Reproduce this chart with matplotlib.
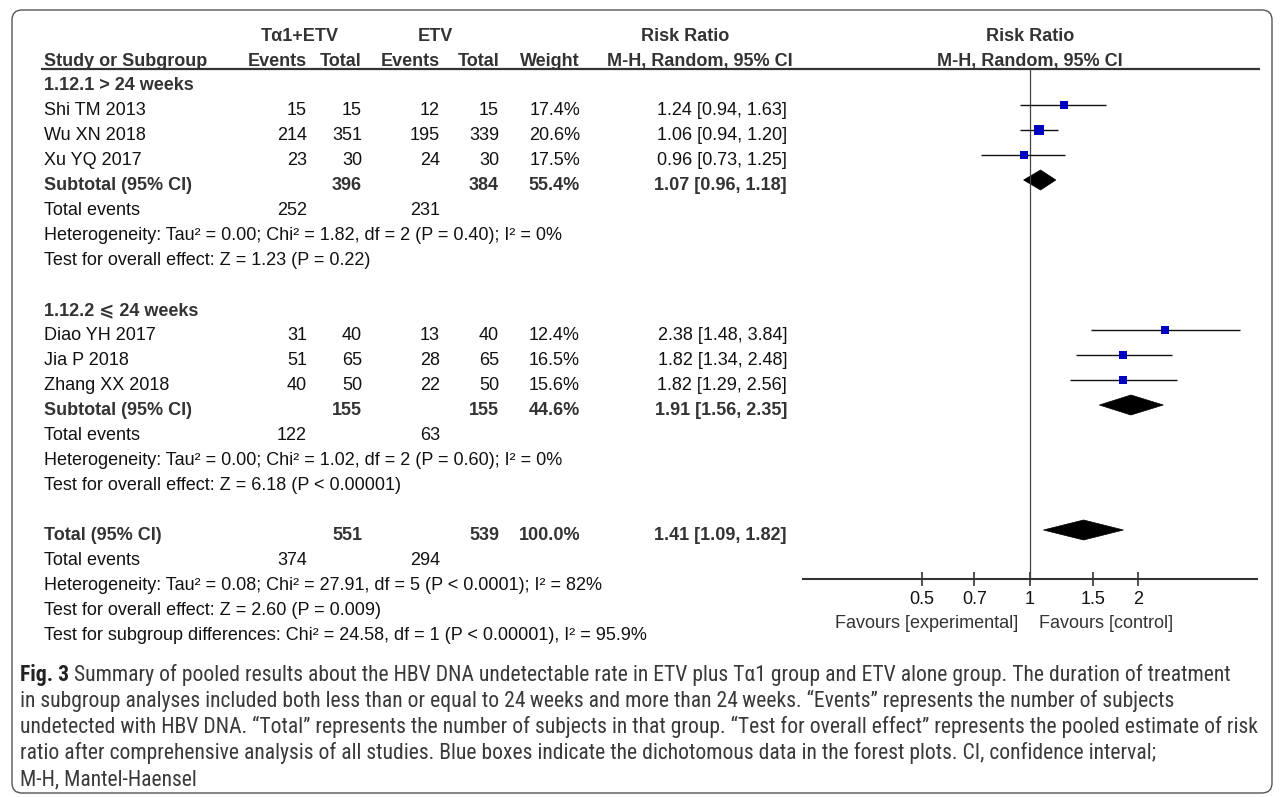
import matplotlib
matplotlib.use('Agg')
import matplotlib.pyplot as plt
from matplotlib.patches import FancyBboxPatch, Polygon
from matplotlib import font_manager
import numpy as np

plt.rcParams['font.family'] = ['Liberation Sans', 'DejaVu Sans']

# ---- data ----
group_titles = ['1.12.1 > 24 weeks', '1.12.2 \u2a7d 24 weeks']

g1_names = ['Shi TM 2013', 'Wu XN 2018', 'Xu YQ 2017']
g1_exp_ev = [15, 214, 23]
g1_exp_n = [15, 351, 30]
g1_ctl_ev = [12, 195, 24]
g1_ctl_n = [15, 339, 30]
g1_weight = [17.4, 20.6, 17.5]
g1_rr = [1.24, 1.06, 0.96]
g1_lo = [0.94, 0.94, 0.73]
g1_hi = [1.63, 1.20, 1.25]

g2_names = ['Diao YH 2017', 'Jia P 2018', 'Zhang XX 2018']
g2_exp_ev = [31, 51, 40]
g2_exp_n = [40, 65, 50]
g2_ctl_ev = [13, 28, 22]
g2_ctl_n = [40, 65, 50]
g2_weight = [12.4, 16.5, 15.6]
g2_rr = [2.38, 1.82, 1.82]
g2_lo = [1.48, 1.34, 1.29]
g2_hi = [3.84, 2.48, 2.56]

# pooled rows: [group 1, group 2, overall]
pool_label = ['Subtotal (95% CI)', 'Subtotal (95% CI)', 'Total (95% CI)']
pool_exp_n = [396, 155, 551]
pool_ctl_n = [384, 155, 539]
pool_weight = [55.4, 44.6, 100.0]
pool_rr = [1.07, 1.91, 1.41]
pool_lo = [0.96, 1.56, 1.09]
pool_hi = [1.18, 2.35, 1.82]
pool_exp_events = [252, 122, 374]
pool_ctl_events = [231, 63, 294]
heterogeneity = [
    'Heterogeneity: Tau\u00b2 = 0.00; Chi\u00b2 = 1.82, df = 2 (P = 0.40); I\u00b2 = 0%',
    'Heterogeneity: Tau\u00b2 = 0.00; Chi\u00b2 = 1.02, df = 2 (P = 0.60); I\u00b2 = 0%',
    'Heterogeneity: Tau\u00b2 = 0.08; Chi\u00b2 = 27.91, df = 5 (P < 0.0001); I\u00b2 = 82%',
]
overall_test = [
    'Test for overall effect: Z = 1.23 (P = 0.22)',
    'Test for overall effect: Z = 6.18 (P < 0.00001)',
    'Test for overall effect: Z = 2.60 (P = 0.009)',
]
subgroup_test = 'Test for subgroup differences: Chi\u00b2 = 24.58, df = 1 (P < 0.00001), I\u00b2 = 95.9%'

axis_ticks = [0.5, 0.7, 1, 1.5, 2]
axis_ticklabels = ['0.5', '0.7', '1', '1.5', '2']

caption_bold = 'Fig. 3'
caption_lines = [
    ' Summary of pooled results about the HBV DNA undetectable rate in ETV plus T\u03b11 group and ETV alone group. The duration of treatment',
    'in subgroup analyses included both less than or equal to 24\u2009weeks and more than 24\u2009weeks. \u201cEvents\u201d represents the number of subjects',
    'undetected with HBV DNA. \u201cTotal\u201d represents the number of subjects in that group. \u201cTest for overall effect\u201d represents the pooled estimate of risk',
    'ratio after comprehensive analysis of all studies. Blue boxes indicate the dichotomous data in the forest plots. CI, confidence interval;',
    'M-H, Mantel-Haensel',
]

# ---- layout (pixels) ----
W, H = 1281, 797
FS = 13
TXT = '#111111'
BOLD = '#333333'
x_label = 44
x_ev1, x_n1, x_ev2, x_n2, x_wt, x_rr = 307, 362, 440, 499, 580, 787
ax_left, ax_right, ax_top, ax_bot = 803, 1257, 68.5, 579


def ty(r):
    return 84 + 25 * r + 6  # baseline of row r


fig = plt.figure(figsize=(W / 100, H / 100), dpi=100)
ax = fig.add_axes([0, 0, 1, 1])
ax.set_xlim(0, W)
ax.set_ylim(H, 0)
ax.axis('off')

ax.add_patch(FancyBboxPatch((12, 10), 1260, 783, boxstyle='round,pad=0,rounding_size=10',
                            fc='white', ec='#555555', lw=1.0))


def t(x, y, s, ha='left', bold=False):
    ax.text(x, y, s, ha=ha, va='baseline', fontsize=FS,
            fontweight='bold' if bold else 'normal', color=BOLD if bold else TXT)


# headers
t(300, 41, 'T\u03b11+ETV', ha='center', bold=True)
t(435, 41, 'ETV', ha='center', bold=True)
t(685, 41, 'Risk Ratio', ha='center', bold=True)
t(1030, 41, 'Risk Ratio', ha='center', bold=True)
t(x_label, 66, 'Study or Subgroup', bold=True)
t(x_ev1, 66, 'Events', ha='right', bold=True)
t(x_n1, 66, 'Total', ha='right', bold=True)
t(x_ev2, 66, 'Events', ha='right', bold=True)
t(x_n2, 66, 'Total', ha='right', bold=True)
t(x_wt, 66, 'Weight', ha='right', bold=True)
t(700, 66, 'M-H, Random, 95% CI', ha='center', bold=True)
t(1030, 66, 'M-H, Random, 95% CI', ha='center', bold=True)
ax.plot([41, 1260], [ax_top, ax_top], color='#333333', lw=1.6, solid_capstyle='butt')

# forest axes (log scale)
fa = fig.add_axes([ax_left / W, (H - ax_bot) / H, (ax_right - ax_left) / W, (ax_bot - ax_top) / H])
fa.set_xscale('log')
lim = np.exp((ax_right - 1030) / 156.0)
fa.set_xlim(1 / lim, lim)
fa.set_ylim((ax_bot - 84) / 25, (ax_top - 84) / 25)
fa.patch.set_alpha(0)
for s in ['top', 'left', 'right']:
    fa.spines[s].set_visible(False)
fa.spines['bottom'].set_color('#333333')
fa.spines['bottom'].set_linewidth(1.5)
fa.set_yticks([])
fa.set_xticks(axis_ticks)
fa.set_xticklabels(axis_ticklabels)
fa.minorticks_off()
fa.tick_params(axis='x', direction='inout', length=10, width=1.2, color='#333333',
               labelsize=FS, labelcolor=TXT, pad=4)
fa.axvline(1, color='#444444', lw=0.9)

ax.text(1018, 628, 'Favours [experimental]', ha='right', va='baseline', fontsize=FS, color='#333333')
ax.text(1039, 628, 'Favours [control]', ha='left', va='baseline', fontsize=FS, color='#333333')


def study_rows(r0, names, ev1, n1, ev2, n2, wt, rr, lo, hi):
    for i in range(len(names)):
        r = r0 + i
        y = ty(r)
        t(x_label, y, names[i])
        t(x_ev1, y, str(ev1[i]), ha='right')
        t(x_n1, y, str(n1[i]), ha='right')
        t(x_ev2, y, str(ev2[i]), ha='right')
        t(x_n2, y, str(n2[i]), ha='right')
        t(x_wt, y, f'{wt[i]:.1f}%', ha='right')
        t(x_rr, y, f'{rr[i]:.2f} [{lo[i]:.2f}, {hi[i]:.2f}]', ha='right')
        ym = r - 0.16
        fa.plot([lo[i], hi[i]], [ym, ym], color='#111111', lw=1.0, solid_capstyle='butt')
        side = 2.0 * np.sqrt(wt[i]) * 0.72
        fa.scatter([rr[i]], [ym], marker='s', s=side ** 2, color='#0000c0', lw=0, zorder=3)


def pooled_rows(r, k):
    y = ty(r)
    t(x_label, y, pool_label[k], bold=True)
    t(x_n1, y, str(pool_exp_n[k]), ha='right', bold=True)
    t(x_n2, y, str(pool_ctl_n[k]), ha='right', bold=True)
    t(x_wt, y, f'{pool_weight[k]:.1f}%', ha='right', bold=True)
    t(x_rr, y, f'{pool_rr[k]:.2f} [{pool_lo[k]:.2f}, {pool_hi[k]:.2f}]', ha='right', bold=True)
    ym = r - 0.16
    fa.add_patch(Polygon([(pool_lo[k], ym), (pool_rr[k], ym - 0.4), (pool_hi[k], ym),
                          (pool_rr[k], ym + 0.4)], closed=True, fc='black', ec='black', lw=0.5))
    t(x_label, ty(r + 1), 'Total events')
    t(x_ev1, ty(r + 1), str(pool_exp_events[k]), ha='right')
    t(x_ev2, ty(r + 1), str(pool_ctl_events[k]), ha='right')
    t(x_label, ty(r + 2), heterogeneity[k])
    t(x_label, ty(r + 3), overall_test[k])


t(x_label, ty(0), group_titles[0], bold=True)
study_rows(1, g1_names, g1_exp_ev, g1_exp_n, g1_ctl_ev, g1_ctl_n, g1_weight, g1_rr, g1_lo, g1_hi)
pooled_rows(4, 0)
t(x_label, ty(9), group_titles[1], bold=True)
study_rows(10, g2_names, g2_exp_ev, g2_exp_n, g2_ctl_ev, g2_ctl_n, g2_weight, g2_rr, g2_lo, g2_hi)
pooled_rows(13, 1)
pooled_rows(18, 2)
t(x_label, ty(22), subgroup_test)

# caption: pick a narrow face if one is installed, size fitted to the widest line
installed = {f.name for f in font_manager.fontManager.ttflist}
cap_face = 'Open Sans'
for name in ['Liberation Sans Narrow', 'Roboto Condensed', 'DejaVu Sans Condensed', 'Open Sans Condensed']:
    if name in installed:
        cap_face = name
        break
cap_font = [cap_face, 'DejaVu Sans']
renderer = fig.canvas.get_renderer()
size = 12
cap_y0, cap_dy = 681, 26
tb = ax.text(20, cap_y0, caption_bold, fontsize=size, fontweight='bold', family=cap_font,
             color='#222222', va='baseline')
texts = []
for i, line in enumerate(caption_lines):
    texts.append(ax.text(20, cap_y0 + cap_dy * i, line, fontsize=size, family=cap_font,
                         color='#3a3a3a', va='baseline'))
widths = [tx.get_window_extent(renderer).width for tx in texts]
widths[0] += tb.get_window_extent(renderer).width
size = size * (1262 - 20) / max(widths)
tb.set_fontsize(size)
for tx in texts:
    tx.set_fontsize(size)
texts[0].set_x(20 + tb.get_window_extent(renderer).width)

fig.savefig('out.png', dpi=100)
